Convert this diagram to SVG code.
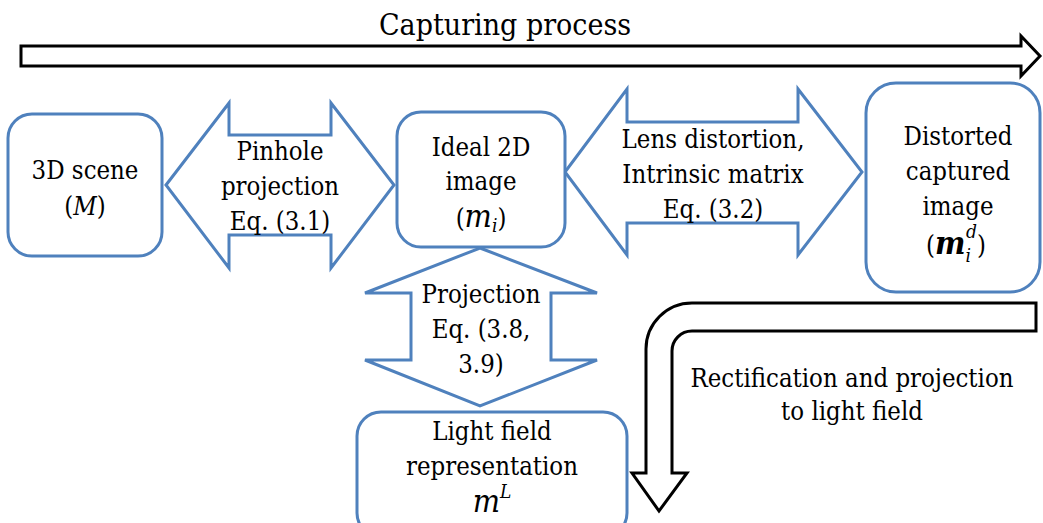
<svg xmlns="http://www.w3.org/2000/svg" width="1043" height="523" viewBox="0 0 1043 523">
<style>
.box{fill:#fff;stroke:#4f81bd;stroke-width:3}
.blk{fill:#fff;stroke:#000;stroke-width:3;stroke-linejoin:miter}
text{font-family:"DejaVu Serif Condensed","DejaVu Serif",serif;font-size:25.5px;fill:#000;text-anchor:middle}
.it{font-style:italic}
.mm{font-style:italic;font-size:32px}
.sub{font-style:italic;font-size:19px}
</style>
<rect width="1043" height="523" fill="#fff"/>
<g id="connectors">
  <g id="capturing">
    <polygon class="blk" points="21,46 1021,46 1021,36 1040,56 1021,76 1021,66 21,66"/>
    <text x="505" y="35" style="font-size:30px">Capturing process</text>
  </g>
  <g id="pinhole">
    <polygon class="box" points="166,185 229,103 229,135 331,135 331,103 394,185 331,268 331,235 229,235 229,268"/>
    <text x="280" y="160">Pinhole</text>
    <text x="280" y="195">projection</text>
    <text x="280" y="230">Eq. (3.1)</text>
  </g>
  <g id="lens">
    <polygon class="box" points="565,172 627,89 627,122 798,122 798,89 862,172 798,255 798,223 627,223 627,255"/>
    <text x="713" y="148">Lens distortion,</text>
    <text x="713" y="183">Intrinsic matrix</text>
    <text x="713" y="218">Eq. (3.2)</text>
  </g>
  <g id="projection">
    <polygon class="box" points="480,248 597,293 551,293 551,360 597,360 480,406 365,360 411,360 411,293 365,293"/>
    <text x="481" y="303">Projection</text>
    <text x="481" y="338">Eq. (3.8,</text>
    <text x="481" y="373">3.9)</text>
  </g>
  <g id="rectification">
    <path class="blk" d="M1036,303 L692,303 A46,46 0 0 0 646,349 L646,473 L632,473 L659,511 L687,473 L672,473 L672,351 A20,20 0 0 1 692,331 L1036,331 Z"/>
    <text x="852" y="387">Rectification and projection</text>
    <text x="852" y="420">to light field</text>
  </g>
</g>
<g id="scene3d">
  <rect class="box" x="8" y="114" width="154" height="142" rx="24"/>
  <text x="85" y="179">3D scene</text>
  <text x="85" y="215">(<tspan class="it">M</tspan>)</text>
</g>
<g id="ideal2d">
  <rect class="box" x="397" y="112" width="168" height="135" rx="24"/>
  <text x="481" y="156">Ideal 2D</text>
  <text x="481" y="190">image</text>
  <text x="481" y="227">(<tspan class="mm">m</tspan><tspan class="sub" dy="5">i</tspan><tspan dy="-5">)</tspan></text>
</g>
<g id="distorted">
  <rect class="box" x="866" y="83" width="174" height="209" rx="30"/>
  <text x="958" y="145">Distorted</text>
  <text x="958" y="180">captured</text>
  <text x="958" y="215">image</text>
  <text x="956" y="254">(<tspan class="mm" style="font-weight:bold">m</tspan><tspan class="sub" dy="8">i</tspan><tspan class="sub" dx="-5" dy="-24">d</tspan><tspan dy="16">)</tspan></text>
</g>
<g id="lightfield">
  <rect class="box" x="357" y="412" width="270" height="125" rx="24"/>
  <text x="492" y="440">Light field</text>
  <text x="492" y="475">representation</text>
  <text x="492" y="512"><tspan class="mm">m</tspan><tspan class="sub" dy="-14">L</tspan></text>
</g>
</svg>
